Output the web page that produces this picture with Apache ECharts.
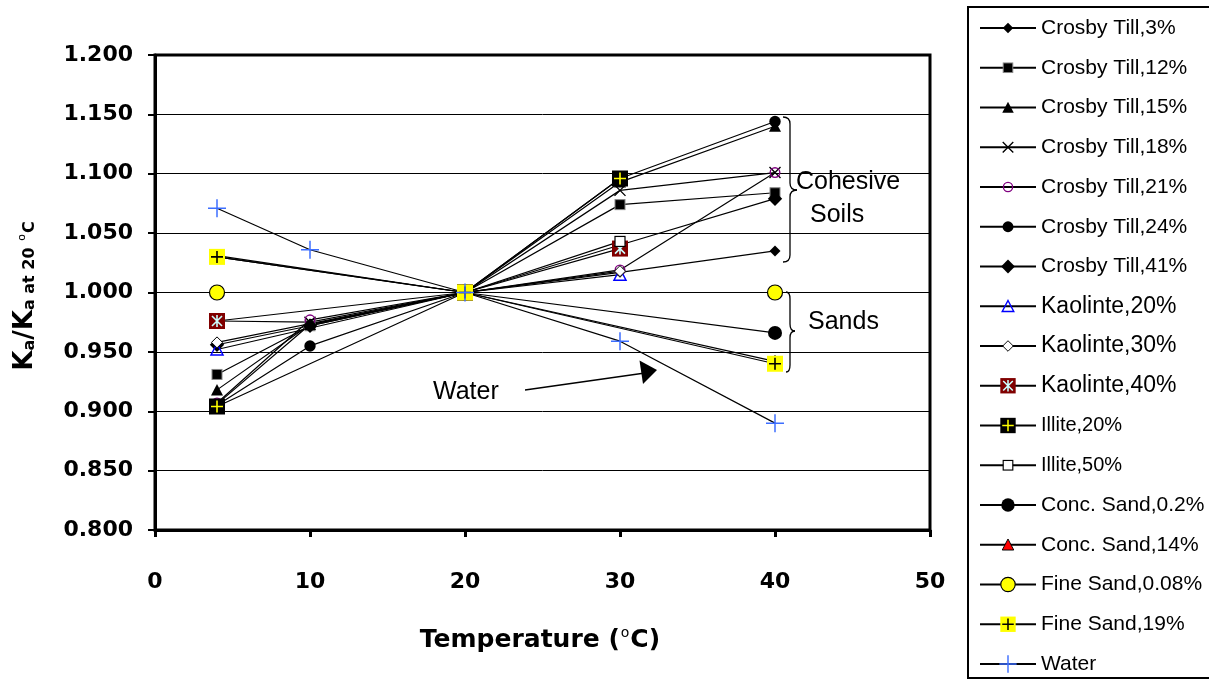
<!DOCTYPE html>
<html><head><meta charset="utf-8">
<script src="https://cdn.jsdelivr.net/npm/echarts@6/dist/echarts.min.js"></script>
<style>html,body{margin:0;padding:0;background:#fff}#c{width:1209px;height:686px}</style>
</head><body><div id="c"></div>
<script>
// ---------- data ----------
const temps = [4, 10, 20, 30, 40];
const xTickValues = [0, 10, 20, 30, 40, 50];
const seriesNames = [
  'Crosby Till,3%', 'Crosby Till,12%', 'Crosby Till,15%', 'Crosby Till,18%',
  'Crosby Till,21%', 'Crosby Till,24%', 'Crosby Till,41%',
  'Kaolinte,20%', 'Kaolinte,30%', 'Kaolinte,40%',
  'Illite,20%', 'Illite,50%',
  'Conc. Sand,0.2%', 'Conc. Sand,14%', 'Fine Sand,0.08%', 'Fine Sand,19%', 'Water'
];
const crosby3   = [0.906, 0.973, 1.000, 1.017, 1.035];
const crosby12  = [0.931, 0.972, 1.000, 1.074, 1.084];
const crosby15  = [0.918, 0.973, 1.000, 1.093, 1.140];
const crosby18  = [0.976, 0.975, 1.000, 1.086, 1.101];
const crosby21  = [0.907, 0.977, 1.000, 1.019, 1.101];
const crosby24  = [0.905, 0.955, 1.000, 1.096, 1.144];
const crosby41  = [0.956, 0.972, 1.000, 1.040, 1.079];
const kaol20    = [0.952, null, 1.000, 1.015, null];
const kaol30    = [0.958, null, 1.000, 1.018, null];
const kaol40    = [0.976, null, 1.000, 1.037, null];
const illite20  = [0.904, null, 1.000, 1.096, null];
const illite50  = [null, null, 1.000, 1.043, null];
const concSand02 = [1.030, null, 1.000, null, 0.966];
const concSand14 = [1.031, null, 1.000, null, 0.942];
const fineSand008 = [1.000, null, 1.000, null, 1.000];
const fineSand19 = [1.030, null, 1.000, null, 0.940];
const water     = [1.071, 1.036, 1.000, 0.959, 0.890];
const seriesValues = [crosby3, crosby12, crosby15, crosby18, crosby21, crosby24, crosby41,
  kaol20, kaol30, kaol40, illite20, illite50, concSand02, concSand14, fineSand008, fineSand19, water];

// ---------- marker styles ----------
function sym(inner) {
  const s = '<svg xmlns="http://www.w3.org/2000/svg" width="20" height="20" viewBox="0 0 20 20">' + inner + '</svg>';
  return 'image://data:image/svg+xml;charset=utf-8,' + encodeURIComponent(s);
}
const markers = [
  sym('<polygon points="10,4.5 15.5,10 10,15.5 4.5,10" fill="#000"/>'),
  sym('<rect x="5" y="5" width="10" height="10" fill="#000" stroke="#888" stroke-width="1"/>'),
  sym('<polygon points="10,4 16,15.5 4,15.5" fill="#000"/>'),
  sym('<path d="M4.5,4.5L15.5,15.5M15.5,4.5L4.5,15.5" stroke="#000" stroke-width="1.4" fill="none"/>'),
  sym('<circle cx="10" cy="10" r="4.8" fill="none" stroke="#800080" stroke-width="1.4"/>'),
  sym('<circle cx="10" cy="10" r="5.7" fill="#000"/>'),
  sym('<polygon points="10,2.8 17.2,10 10,17.2 2.8,10" fill="#000"/>'),
  sym('<polygon points="10,4 16,15.5 4,15.5" fill="none" stroke="#0000FF" stroke-width="1.5"/>'),
  sym('<polygon points="10,4.5 15.5,10 10,15.5 4.5,10" fill="#fff" stroke="#000" stroke-width="1"/>'),
  sym('<rect x="2" y="2" width="16" height="16" fill="#800000"/><path d="M5,5L15,15M15,5L5,15M10,4L10,16" stroke="#CCFFFF" stroke-width="1.6" fill="none"/>'),
  sym('<rect x="2" y="2" width="16" height="16" fill="#000"/><path d="M4,10L16,10M10,4L10,16" stroke="#FFFF00" stroke-width="1.6" fill="none"/>'),
  sym('<rect x="5" y="5" width="10" height="10" fill="#fff" stroke="#000" stroke-width="1.2"/>'),
  sym('<circle cx="10" cy="10" r="7" fill="#000"/>'),
  sym('<polygon points="10,4 16,15.5 4,15.5" fill="#FF0000" stroke="#000" stroke-width="1"/>'),
  sym('<circle cx="10" cy="10" r="7.5" fill="#FFFF00" stroke="#000" stroke-width="1.2"/>'),
  sym('<rect x="2" y="2" width="16" height="16" fill="#FFFF00"/><path d="M4,10L16,10M10,4L10,16" stroke="#000" stroke-width="1.6" fill="none"/>'),
  sym('<path d="M1,10L19,10M10,1L10,19" stroke="#3D6EFF" stroke-width="1.5" fill="none"/>')
];
const legendFont = [21,21,21,21,21,21,21,23,23,23,20,20,21,21,21,21,21];

const chart = echarts.init(document.getElementById('c'));
const series = seriesNames.map((name, k) => ({
  type: 'line',
  name: name,
  data: temps.map((t, i) => [t, seriesValues[k][i]]).filter(p => p[1] !== null),
  symbol: markers[k],
  symbolSize: 20,
  showAllSymbol: true,
  lineStyle: { color: '#000', width: 1.2 },
  itemStyle: { color: '#000' },
  emphasis: { disabled: true },
  animation: false
}));

// braces
function brace(xL, xm, xTip, yTop, yMid, yBot) {
  const r = 7, st = { stroke: '#000', lineWidth: 1.3, fill: 'none' };
  return [
    { type: 'bezierCurve', shape: { x1: xL, y1: yTop, x2: xm, y2: yTop + r, cpx1: xm, cpy1: yTop }, style: st },
    { type: 'line', shape: { x1: xm, y1: yTop + r, x2: xm, y2: yMid - r }, style: st },
    { type: 'bezierCurve', shape: { x1: xm, y1: yMid - r, x2: xTip, y2: yMid, cpx1: xm, cpy1: yMid }, style: st },
    { type: 'bezierCurve', shape: { x1: xTip, y1: yMid, x2: xm, y2: yMid + r, cpx1: xm, cpy1: yMid }, style: st },
    { type: 'line', shape: { x1: xm, y1: yMid + r, x2: xm, y2: yBot - r }, style: st },
    { type: 'bezierCurve', shape: { x1: xm, y1: yBot - r, x2: xL, y2: yBot, cpx1: xm, cpy1: yBot }, style: st }
  ];
}
const annoFont = '25px "Liberation Sans", Arial, sans-serif';
const graphics = [].concat(
  brace(783, 790, 797, 117, 190, 262),
  brace(786, 790, 795, 292, 331, 372),
  [
    { type: 'text', x: 796, y: 182, style: { text: 'Cohesive', font: annoFont, fill: '#000', align: 'left', verticalAlign: 'middle' } },
    { type: 'text', x: 810, y: 215, style: { text: 'Soils', font: annoFont, fill: '#000', align: 'left', verticalAlign: 'middle' } },
    { type: 'text', x: 808, y: 322, style: { text: 'Sands', font: annoFont, fill: '#000', align: 'left', verticalAlign: 'middle' } },
    { type: 'text', x: 433, y: 392, style: { text: 'Water', font: annoFont, fill: '#000', align: 'left', verticalAlign: 'middle' } },
    { type: 'line', shape: { x1: 525, y1: 390, x2: 645, y2: 373 }, style: { stroke: '#000', lineWidth: 1.3 } },
    { type: 'polygon', shape: { points: [[657, 370], [639.5, 360.5], [643, 384]] }, style: { fill: '#000' } },
    { type: 'rect', shape: { x: 968, y: 7, width: 270, height: 671 }, style: { fill: 'none', stroke: '#000', lineWidth: 2 } },
    {
      type: 'text', x: 24, y: 296, rotation: Math.PI / 2,
      style: {
        text: '{b|K}{s|a}{b|/K}{s|a at 20 }{sup|o}{s|C}',
        align: 'center', verticalAlign: 'middle', fill: '#000',
        rich: {
          b: { fontFamily: 'DejaVu Sans', fontWeight: 'bold', fontSize: 26, lineHeight: 28, verticalAlign: 'bottom', fill: '#000' },
          s: { fontFamily: 'DejaVu Sans', fontWeight: 'bold', fontSize: 16, lineHeight: 16, verticalAlign: 'bottom', fill: '#000' },
          sup: { fontFamily: 'DejaVu Sans', fontSize: 11, lineHeight: 11, verticalAlign: 'top', padding: [7, 1, 0, 1], fill: '#000' }
        }
      }
    },
    {
      type: 'text', x: 540, y: 638,
      style: {
        text: '{b|Temperature (}{sup|o}{b|C)}',
        align: 'center', verticalAlign: 'middle', fill: '#000',
        rich: {
          b: { fontFamily: 'DejaVu Sans', fontWeight: 'bold', fontSize: 25, lineHeight: 30, verticalAlign: 'bottom', fill: '#000' },
          sup: { fontFamily: 'DejaVu Sans', fontSize: 14, lineHeight: 14, verticalAlign: 'top', padding: [3, 1, 0, 1], fill: '#000' }
        }
      }
    }
  ]
);

chart.setOption({
  animation: false,
  backgroundColor: '#fff',
  grid: { left: 155, top: 55, width: 775, height: 475, show: true, borderColor: '#000', borderWidth: 3, backgroundColor: 'transparent' },
  xAxis: {
    type: 'value', min: xTickValues[0], max: xTickValues[xTickValues.length - 1], interval: 10,
    axisLine: { onZero: false, lineStyle: { color: '#000', width: 3 } },
    axisTick: { show: true, length: 7, lineStyle: { color: '#000', width: 3 } },
    axisLabel: { color: '#000', fontFamily: 'DejaVu Sans', fontWeight: 'bold', fontSize: 22, margin: 41 },
    splitLine: { show: false }
  },
  yAxis: {
    type: 'value', min: 0.8, max: 1.2, interval: 0.05,
    axisLine: { show: true, onZero: false, lineStyle: { color: '#000', width: 3 } },
    axisTick: { show: true, length: 7, lineStyle: { color: '#000', width: 2 } },
    axisLabel: { color: '#000', fontFamily: 'DejaVu Sans', fontWeight: 'bold', fontSize: 22, margin: 22, formatter: v => v.toFixed(3) },
    splitLine: { show: true, showMinLine: false, showMaxLine: false, lineStyle: { color: '#000', width: 1 } }
  },
  legend: {
    orient: 'vertical', left: 979, top: 16, padding: 0,
    itemWidth: 56, itemHeight: 24, itemGap: 15.75,
    selectedMode: false,
    textStyle: { fontFamily: '"Liberation Sans", Arial, sans-serif', fontSize: 21, color: '#000', lineHeight: 24 },
    data: seriesNames.map((n, k) => ({ name: n, textStyle: { fontSize: legendFont[k] } }))
  },
  graphic: graphics,
  series: series
});
</script></body></html>
